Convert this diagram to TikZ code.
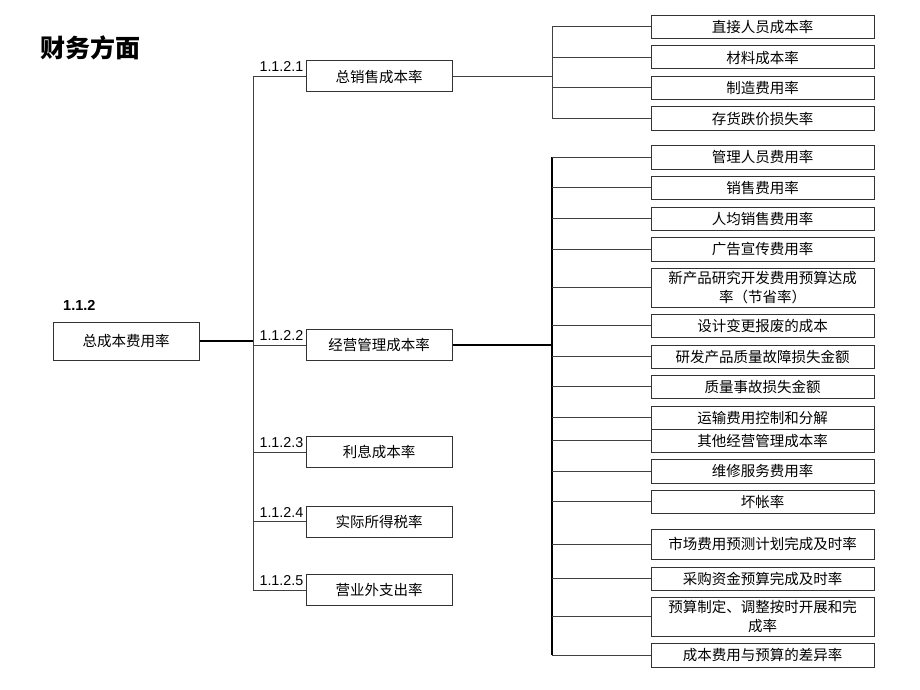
\documentclass[tikz,border=0pt]{standalone}
\usepackage{fontspec}
\setmainfont{Liberation Sans}
\newfontfamily\cjk{Noto Sans CJK SC}
\usetikzlibrary{positioning}

\tikzset{
	leaf/.style={draw=black!80, line width=1pt, fill=white, minimum width=223pt, minimum height=23pt,
		inner sep=0pt, align=center, font=\cjk\fontsize{14.5}{19}\selectfont},
	mid/.style={leaf, minimum width=146pt, minimum height=31pt},
	num/.style={inner sep=0pt, anchor=base east, font=\fontsize{14.3}{16}\selectfont},
	link/.style={draw=black!75, line width=1pt},
	trunk/.style={draw=black, line width=1.5pt}
}

\begin{document}
\begin{tikzpicture}[x=1pt,y=-1pt]
	
		\useasboundingbox (0,0) rectangle (920,690);
		
		\node[anchor=base west, inner sep=0pt, font=\cjk\bfseries\fontsize{25}{28}\selectfont] (title) at (40,58) {财务方面};
		
		% root
		\node[mid, minimum height=38pt] (root) at (126,341) {总成本费用率};
		\node[num, anchor=base west, font=\bfseries\fontsize{14.5}{16}\selectfont] (rootnum) at (63,310) {1.1.2};
		
		% second level
		\foreach \i/\y/\t in {1/76.5/总销售成本率, 2/345/经营管理成本率, 3/452/利息成本率,
			4/521.5/实际所得税率, 5/590/营业外支出率}
		{
			\node[mid] (m\i) at (379,\y) {\t};
			\node[num] (n\i) at ([shift={(-2pt,4.5pt)}]m\i.west) {1.1.2.\i};
		}
		
		% third level
		\foreach \i/\y/\h/\t in {1/27/23pt/直接人员成本率, 2/57.5/23pt/材料成本率, 3/88/23pt/制造费用率,
			4/118.5/23pt/存货跌价损失率, 5/157/24pt/管理人员费用率, 6/187.5/23pt/销售费用率,
			7/218.5/23pt/人均销售费用率, 8/249/24pt/广告宣传费用率,
			9/287.5/39pt/新产品研究开发费用预算达成\\率（节省率）, 10/325.5/23pt/设计变更报废的成本,
			11/356.5/23pt/研发产品质量故障损失金额, 12/386.5/23pt/质量事故损失金额,
			13/417.5/23pt/运输费用控制和分解, 14/440.5/23pt/其他经营管理成本率,
			15/471/24pt/维修服务费用率, 16/501.5/23pt/坏帐率, 17/544/30pt/市场费用预测计划完成及时率,
			18/578.5/23pt/采购资金预算完成及时率, 19/616.5/39pt/预算制定、调整按时开展和完\\成率,
			20/655/24pt/成本费用与预算的差异率}
		\node[leaf, minimum height=\h] (r\i) at (762.5,\y) {\t};
		
		\coordinate (busA) at (253,0);
		\coordinate (busB) at (552,0);
		
		% connectors
		\draw[trunk] (root.east) -- (root.east -| busA);
		\draw[link] (busA |- m1.west) -- (busA |- m5.west);
		\foreach \i in {1,...,5}
		\draw[link] (busA |- m\i.west) -- (m\i.west);
		
		\draw[link] (m1.east) -- (m1.east -| busB);
		\draw[link] (busB |- r1.west) -- (busB |- r4.west);
		\foreach \i in {1,...,4}
		\draw[link] (busB |- r\i.west) -- (r\i.west);
		
		\draw[trunk] (m2.east) -- (m2.east -| busB);
		\draw[trunk] (busB |- r5.west) -- (busB |- r20.west);
		\foreach \i in {5,...,20}
		\draw[link] (busB |- r\i.west) -- (r\i.west);
		
		\end{tikzpicture}
\end{document}
